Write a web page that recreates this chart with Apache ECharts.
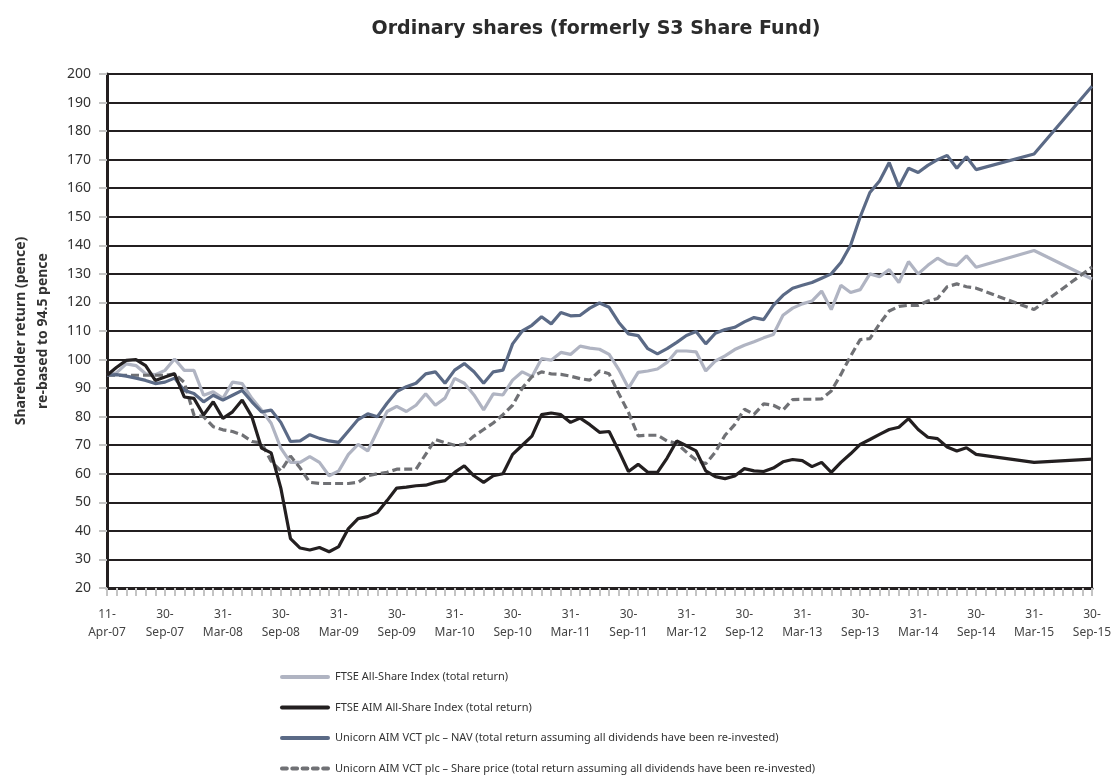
<!DOCTYPE html>
<html>
<head>
<meta charset="utf-8">
<script src="https://cdn.jsdelivr.net/npm/echarts@6.0.0/dist/echarts.min.js"></script>
<style>
  html, body { margin: 0; padding: 0; background: #fff; }
  #chart { width: 1112px; height: 776px; }
</style>
</head>
<body>
<div id="chart"></div>
<script>
// x labels every 6 categories (first is 11-Apr-07, then month ends)
const tickLabels = [
  "11-\nApr-07", "30-\nSep-07", "31-\nMar-08", "30-\nSep-08", "31-\nMar-09", "30-\nSep-09",
  "31-\nMar-10", "30-\nSep-10", "31-\nMar-11", "30-\nSep-11", "31-\nMar-12", "30-\nSep-12",
  "31-\nMar-13", "30-\nSep-13", "31-\nMar-14", "30-\nSep-14", "31-\nMar-15", "30-\nSep-15",
];

const monthNames = ["Jan", "Feb", "Mar", "Apr", "May", "Jun", "Jul", "Aug", "Sep", "Oct", "Nov", "Dec"];

// 11-Apr-07 followed by every month end from Apr-07 to Sep-15
const categories = ["11-Apr-07"];
for (let m = 3; m <= 3 + 101; m++) {
  const year = 2007 + Math.floor(m / 12);
  const month = m % 12;
  const lastDay = new Date(year, month + 1, 0).getDate();
  categories.push(lastDay + "-" + monthNames[month] + "-" + String(year).slice(2));
}

const ftseAllShare = [
  94.5, 95.4, 98.5, 97.9, 95, 94.7, 96.2, 100.2, 96.2, 96.2,
  87.5, 88.7, 86.4, 92.1, 91.6, 86.4, 82.3, 77.7, 69, 64,
  64, 66, 64, 59.3, 61, 66.8, 70.3, 68, 75, 81.8,
  83.6, 81.8, 84, 88, 84, 86.5, 93.4, 91.7, 87.6, 82.4,
  88, 87.6, 92.8, 95.7, 94, 100.3, 99.8, 102.5, 101.8, 104.7,
  104, 103.6, 101.8, 96.5, 90, 95.5, 96, 96.7, 99, 103,
  103, 102.7, 96, 99.5, 101.3, 103.5, 105, 106.2, 107.6, 108.8,
  115.5, 118, 119.5, 120.5, 124, 117.5, 126, 123.5, 124.5, 130,
  129, 131.5, 127, 134.3, 130, 133, 135.5, 133.5, 133, 136.3,
  132.3, null, null, null, null, null, 138.2, null, null, null,
  null, null, 128.2,
];

const ftseAim = [
  94.5, 97.3, 99.7, 100, 97.9, 92.7, 93.9, 95, 86.9, 86.4,
  80.6, 85.2, 79.4, 81.7, 85.8, 80, 69, 67.3, 55, 37.3,
  34, 33.3, 34.2, 32.7, 34.5, 40.8, 44.3, 45, 46.4, 50.6,
  55, 55.3, 55.8, 56, 57, 57.6, 60.5, 62.8, 59.3, 57,
  59.3, 60, 66.8, 70, 73.2, 80.7, 81.3, 80.7, 78, 79.5,
  77.2, 74.5, 74.8, 68, 60.8, 63.3, 60.5, 60.5, 65.5, 71.5,
  69.8, 68, 61, 59, 58.3, 59.2, 61.8, 61, 60.8, 62,
  64.2, 65, 64.6, 62.5, 64, 60.5, 64, 67, 70.3, 72,
  73.8, 75.5, 76.3, 79.3, 75.5, 72.8, 72.3, 69.4, 68, 69.1,
  66.8, null, null, null, null, null, 64, null, null, null,
  null, null, 65.1,
];

const navReturn = [
  94.5, 94.7, 94.2, 93.5, 92.7, 91.6, 92.1, 93.5, 89.2, 88.1,
  85.2, 87.5, 85.8, 87.5, 89.2, 85.2, 81.7, 82.3, 78, 71.3,
  71.5, 73.7, 72.4, 71.5, 71, 75, 79, 81, 80, 84.7,
  88.8, 90.5, 91.7, 95, 95.7, 91.7, 96.3, 98.6, 95.7, 91.7,
  95.7, 96.3, 105.5, 110, 112, 115, 112.5, 116.5, 115.3, 115.5,
  118, 119.8, 118.3, 113, 109, 108.4, 103.8, 102, 103.8, 106,
  108.4, 109.8, 105.5, 109.2, 110.5, 111.3, 113.2, 114.7, 114, 119,
  122.5, 125, 126, 127, 128.5, 130, 134, 140, 150, 158.5,
  162.5, 169, 160.5, 167, 165.5, 168, 170, 171.5, 167, 171,
  166.5, null, null, null, null, null, 172, null, null, null,
  null, null, 195.7,
];

const sharePrice = [
  94.5, 94.5, 94.5, 94.5, 94.5, 94.5, 94.5, 95, 92, 80.6,
  80, 76.5, 75.4, 74.8, 73.6, 71.3, 70.8, 64.4, 61, 66.2,
  62, 57, 56.6, 56.6, 56.6, 56.6, 57, 59.3, 60, 60.5,
  61.6, 61.6, 61.6, 66.8, 72, 70.9, 70, 70.3, 73.2, 75.5,
  77.8, 80.7, 84, 90, 94, 95.7, 95, 94.8, 94.2, 93.3,
  92.8, 96, 95, 88, 81.5, 73.3, 73.5, 73.5, 71.5, 70.6,
  67.6, 64.8, 63.5, 67.6, 73.5, 77.2, 82.6, 80.8, 84.5, 84,
  82.3, 86, 86.1, 86.1, 86.2, 89, 94.8, 101.2, 107, 107.3,
  112.5, 117, 118.6, 119, 119, 120.5, 121.4, 125.5, 126.5, 125.5,
  125, null, null, null, null, null, 117.5, null, null, null,
  null, null, 132.4,
];

const seriesNames = [
  "FTSE All-Share Index (total return)",
  "FTSE AIM All-Share Index (total return)",
  "Unicorn AIM VCT plc \u2013 NAV (total return assuming all dividends have been re-invested)",
  "Unicorn AIM VCT plc \u2013 Share price (total return assuming all dividends have been re-invested)",
];

const textColor = "#333333";
const fontFamily = "'Noto Sans', 'Open Sans', sans-serif";

const dashIcon = "path://M2,0h5a2,2 0 0 1 0,4h-5a2,2 0 0 1 0,-4z M12.5,0h5a2,2 0 0 1 0,4h-5a2,2 0 0 1 0,-4z M23,0h5a2,2 0 0 1 0,4h-5a2,2 0 0 1 0,-4z M33.5,0h5a2,2 0 0 1 0,4h-5a2,2 0 0 1 0,-4z M44,0h5a2,2 0 0 1 0,4h-5a2,2 0 0 1 0,-4z";
const barIcon = "path://M2,0h46a2,2 0 0 1 0,4h-46a2,2 0 0 1 0,-4z";

function lineSeries(name, data, color, dashed) {
  return {
    name,
    type: "line",
    data,
    symbol: "none",
    connectNulls: true,
    lineStyle: {
      color,
      width: 3.2,
      type: dashed ? [8, 4] : "solid",
    },
    itemStyle: { color },
  };
}

const chart = echarts.init(document.getElementById("chart"));

chart.setOption({
  animation: false,
  textStyle: { fontFamily },
  title: {
    text: "Ordinary shares (formerly S3 Share Fund)",
    left: 591,
    textAlign: "center",
    top: 15,
    textStyle: { fontSize: 19, fontWeight: "bold", color: "#2b2b2b", fontFamily: "'DejaVu Sans', sans-serif" },
  },
  grid: {
    left: 107,
    right: 20,
    top: 74,
    bottom: 188,
    outerBoundsMode: "none",
    show: true,
    borderColor: "#231f20",
    borderWidth: 2,
    backgroundColor: "transparent",
  },
  legend: {
    orient: "vertical",
    left: 275,
    top: 665,
    height: 110,
    itemWidth: 50,
    itemHeight: 4,
    itemGap: 16.5,
    data: [
      { name: seriesNames[0], icon: barIcon },
      { name: seriesNames[1], icon: barIcon },
      { name: seriesNames[2], icon: barIcon },
      { name: seriesNames[3], icon: dashIcon },
    ],
    textStyle: { fontSize: 11, color: textColor, lineHeight: 14, fontFamily },
  },
  xAxis: {
    type: "category",
    boundaryGap: false,
    data: categories,
    axisLine: { lineStyle: { color: "#231f20", width: 3 } },
    axisTick: { interval: 0, length: 8, lineStyle: { color: "#c4c4c4", width: 2 } },
    axisLabel: {
      interval: 5,
      margin: 18,
      fontSize: 12,
      lineHeight: 18,
      color: "#444",
      formatter: (value, index) => tickLabels[index / 6] || "",
    },
    splitLine: { show: false },
  },
  yAxis: {
    type: "value",
    min: 20,
    max: 200,
    interval: 10,
    name: "Shareholder return (pence)\nre-based to 94.5 pence",
    nameLocation: "middle",
    nameGap: 53,
    nameTextStyle: { fontSize: 14, fontWeight: "bold", color: textColor, lineHeight: 22, fontFamily },
    axisLine: { show: true, lineStyle: { color: "#231f20", width: 3 } },
    axisTick: { show: true, length: 8, lineStyle: { color: "#c4c4c4", width: 2 } },
    axisLabel: { fontSize: 14, color: textColor, margin: 16 },
    splitLine: { lineStyle: { color: "#231f20", width: 2 } },
  },
  series: [
    lineSeries(seriesNames[0], ftseAllShare, "#b0b4c2", false),
    lineSeries(seriesNames[3], sharePrice, "#707175", true),
    lineSeries(seriesNames[2], navReturn, "#5b6a86", false),
    lineSeries(seriesNames[1], ftseAim, "#231f20", false),
  ],
});
</script>
</body>
</html>
